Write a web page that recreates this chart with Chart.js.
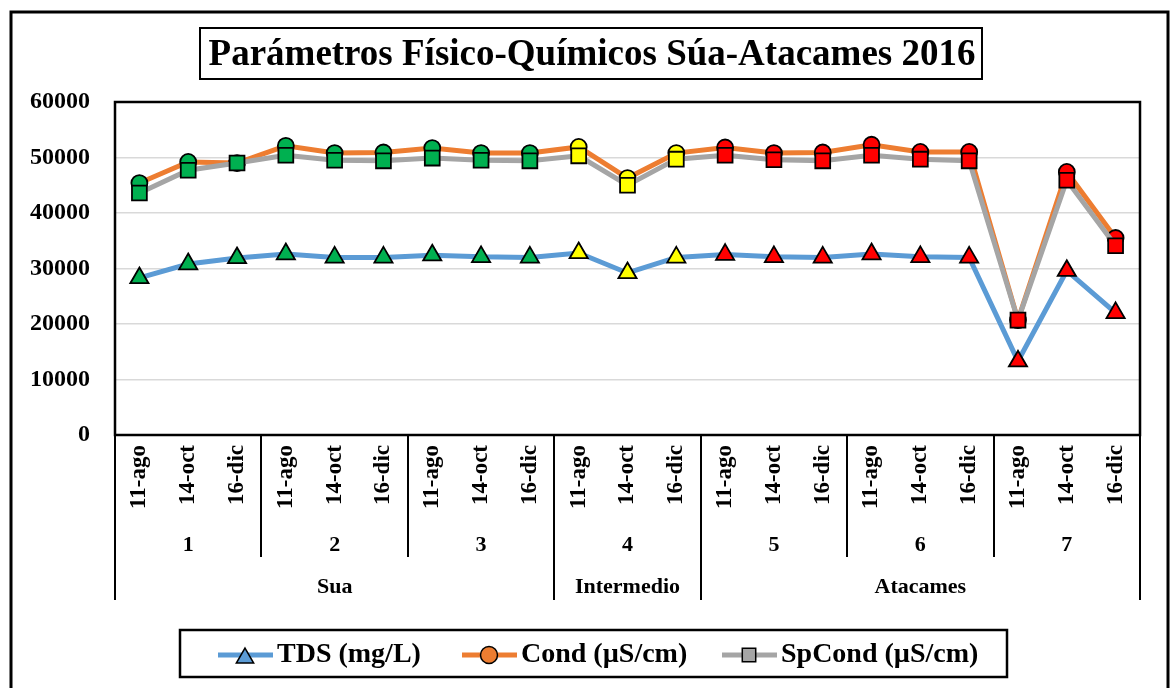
<!DOCTYPE html>
<html>
<head>
<meta charset="utf-8">
<script src="https://cdn.jsdelivr.net/npm/chart.js@4.4.1/dist/chart.umd.min.js"></script>
<style>
  html, body { margin: 0; padding: 0; background: #fff; }
  #wrap { width: 1172px; height: 688px; position: relative; }
</style>
</head>
<body>
<div id="wrap"><canvas id="paramChart" width="1172" height="688"></canvas></div>
<script>
// categories
const dates = ["11-ago", "14-oct", "16-dic", "11-ago", "14-oct", "16-dic", "11-ago", "14-oct", "16-dic",
  "11-ago", "14-oct", "16-dic", "11-ago", "14-oct", "16-dic", "11-ago", "14-oct", "16-dic",
  "11-ago", "14-oct", "16-dic"];
const stations = ["1", "2", "3", "4", "5", "6", "7"];
const regions = ["Sua", "Intermedio", "Atacames"];
const regionStations = [3, 1, 3]; // how many stations per region

// series values
const tds = [28300, 30800, 31900, 32600, 32000, 32000, 32400, 32100, 32000,
  32800, 29200, 32000, 32500, 32100, 32000, 32600, 32100, 32000, 13300, 29600, 22000];
const cond = [45400, 49200, 49000, 52100, 50800, 50900, 51700, 50800, 50800,
  51900, 46300, 50800, 51800, 50800, 50900, 52300, 51000, 51000, 20700, 47400, 35500];
const spCond = [43600, 47700, 49000, 50400, 49500, 49400, 49900, 49500, 49400,
  50300, 45000, 49700, 50400, 49600, 49400, 50400, 49700, 49400, 20700, 45900, 34100];

const yTicks = [0, 10000, 20000, 30000, 40000, 50000, 60000];
const titleText = "Parámetros Físico-Químicos Súa-Atacames 2016";

// marker colour per station
const stationColors = ["#00B050", "#00B050", "#00B050", "#FFFF00", "#FF0000", "#FF0000", "#FF0000"];
const markerColors = dates.map((d, i) => stationColors[Math.floor(i / 3)]);

const SERIF = "'Liberation Serif', 'DejaVu Serif', serif";

const seriesInfo = [
  { label: "TDS (mg/L)", color: "#5B9BD5", style: "triangle" },
  { label: "Cond (µS/cm)", color: "#ED7D31", style: "circle" },
  { label: "SpCond (µS/cm)", color: "#A5A5A5", style: "rect" },
];

const decor = {
  id: "decor",
  beforeDraw(chart) {
    const ctx = chart.ctx;
    ctx.save();
    ctx.fillStyle = "#fff";
    ctx.fillRect(0, 0, chart.width, chart.height);
    ctx.restore();
  },
  afterDraw(chart) {
    const ctx = chart.ctx;
    const a = chart.chartArea;
    const x = chart.scales.x;
    const half = (x.getPixelForValue(1) - x.getPixelForValue(0)) / 2;
    const edge = (i) => x.getPixelForValue(i) + half; // right edge of category i

    ctx.save();
    // plot border
    ctx.strokeStyle = "#000";
    ctx.lineWidth = 2.5;
    ctx.strokeRect(a.left, a.top, a.right - a.left, a.bottom - a.top);

    // x axis table lines
    ctx.lineWidth = 2;
    const line = (px, y2) => {
      ctx.beginPath();
      ctx.moveTo(Math.round(px), a.bottom);
      ctx.lineTo(Math.round(px), y2);
      ctx.stroke();
    };
    line(a.left, 600);
    line(a.right, 600);
    let regionEnd = [];
    let acc = -1;
    regionStations.forEach((n) => { acc += n * 3; regionEnd.push(acc); });
    for (let s = 1; s < stations.length; s++) {
      const i = s * 3 - 1;
      line(edge(i), regionEnd.includes(i) ? 600 : 557);
    }

    // station labels
    ctx.fillStyle = "#000";
    ctx.font = "bold 22px " + SERIF;
    ctx.textAlign = "center";
    ctx.textBaseline = "middle";
    stations.forEach((s, k) => {
      const cx = (edge(k * 3 - 1) + edge(k * 3 + 2)) / 2;
      ctx.fillText(s, cx, 545);
    });
    // region labels
    let start = -1;
    regions.forEach((r, k) => {
      const end = start + regionStations[k] * 3;
      ctx.fillText(r, (edge(start) + edge(end)) / 2, 587);
      start = end;
    });

    // title box
    ctx.lineWidth = 2;
    ctx.strokeRect(200, 28, 782, 51);
    ctx.font = "bold 37px " + SERIF;
    ctx.fillText(titleText, 592, 55);

    // legend box
    ctx.lineWidth = 2.5;
    ctx.strokeRect(180, 630, 827, 47);
    const lx = [218, 462, 722];
    const ly = 655;
    chart.data.datasets.forEach((ds, k) => {
      ctx.strokeStyle = ds.borderColor;
      ctx.lineWidth = 5;
      ctx.beginPath();
      ctx.moveTo(lx[k], ly);
      ctx.lineTo(lx[k] + 55, ly);
      ctx.stroke();
      ctx.fillStyle = ds.borderColor;
      ctx.strokeStyle = "#000";
      ctx.lineWidth = 1.5;
      Chart.helpers.drawPoint(ctx, { pointStyle: ds.pointStyle, radius: k === 2 ? 9.5 : (k === 0 ? 10 : 8.5), borderWidth: 1.5 }, lx[k] + 27, ly + (k === 0 ? 3 : 0));
      ctx.fillStyle = "#000";
      ctx.font = "bold 28px " + SERIF;
      ctx.textAlign = "left";
      ctx.fillText(ds.label, lx[k] + 59, ly);
    });

    // outer frame
    ctx.strokeStyle = "#000";
    ctx.lineWidth = 3;
    ctx.strokeRect(11, 12, 1157, 700);
    ctx.restore();
  },
};

function makeSet(k, data, radius, order) {
  const info = seriesInfo[k];
  return {
    label: info.label,
    data: data,
    borderColor: info.color,
    backgroundColor: info.color,
    borderWidth: 5,
    tension: 0,
    pointStyle: info.style,
    pointRadius: radius,
    pointHoverRadius: radius,
    pointBackgroundColor: markerColors,
    pointBorderColor: "#000",
    pointBorderWidth: 1.8,
    order: order,
  };
}

new Chart(document.getElementById("paramChart").getContext("2d"), {
  type: "line",
  data: {
    labels: dates,
    datasets: [
      makeSet(0, tds, 10.5, 2),
      makeSet(1, cond, 8, 1),
      makeSet(2, spCond, 10.5, 0),
    ],
  },
  options: {
    responsive: false,
    animation: false,
    layout: { padding: { left: 0, top: 102, right: 32, bottom: 0 } },
    plugins: {
      legend: { display: false },
      title: { display: false },
      tooltip: { enabled: false },
    },
    scales: {
      x: {
        offset: true,
        grid: { display: false, drawTicks: false },
        border: { display: false },
        ticks: {
          autoSkip: false,
          minRotation: 90,
          maxRotation: 90,
          padding: 10,
          color: "#000",
          font: { family: SERIF, size: 23, weight: "bold" },
        },
        afterFit(scale) { scale.height = 253; },
      },
      y: {
        min: 0,
        max: 60000,
        afterBuildTicks(scale) { scale.ticks = yTicks.map((v) => ({ value: v })); },
        grid: { color: "#D9D9D9", lineWidth: 1.5, drawTicks: false },
        border: { display: false },
        ticks: {
          padding: 25,
          color: "#000",
          font: { family: SERIF, size: 24, weight: "bold" },
          callback: (v) => String(v),
        },
        afterFit(scale) { scale.width = 115; },
      },
    },
  },
  plugins: [decor],
});
</script>
</body>
</html>
